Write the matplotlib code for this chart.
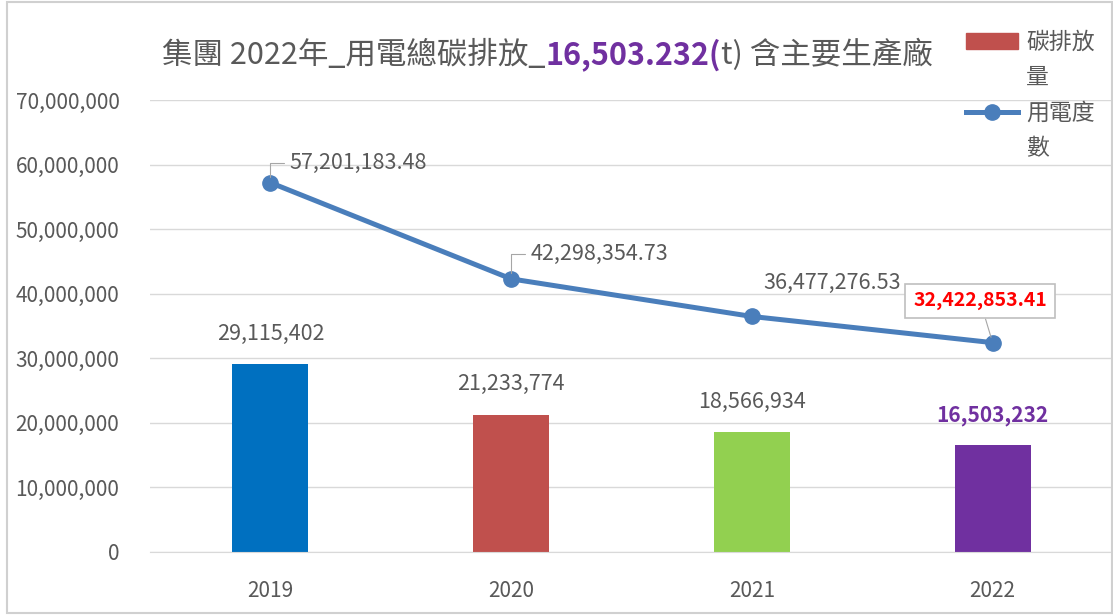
import matplotlib
matplotlib.use('Agg')
import matplotlib.pyplot as plt
from matplotlib.patches import Patch, Rectangle
from matplotlib.lines import Line2D
from matplotlib.ticker import FuncFormatter

plt.rcParams['font.family'] = ['Noto Sans CJK TC', 'DejaVu Sans']

years = ['2019', '2020', '2021', '2022']
carbon = [29115402, 21233774, 18566934, 16503232]
power = [57201183.48, 42298354.73, 36477276.53, 32422853.41]
bar_colors = ['#0070C0', '#C0504D', '#92D050', '#7030A0']
gray = '#595959'

fig = plt.figure(figsize=(11.13, 6.15), dpi=100)
ax = fig.add_axes([150 / 1113, 63 / 615, 963 / 1113, 452 / 615])

x = list(range(len(years)))
ax.bar(x, carbon, width=0.315, color=bar_colors, zorder=2)
ax.plot(x, power, color='#4A7EBB', lw=3.6, marker='o', ms=11, zorder=3)

ax.set_xlim(-0.5, 3.5)
ax.set_ylim(0, 70000000)
ax.set_yticks(range(0, 70000001, 10000000))
ax.yaxis.set_major_formatter(FuncFormatter(lambda v, p: f'{int(v):,}'))
ax.set_xticks(x)
ax.set_xticklabels(years)
ax.tick_params(axis='both', length=0, colors=gray, labelsize=15)
ax.tick_params(axis='y', pad=22)
ax.tick_params(axis='x', pad=20)
ax.grid(axis='y', color='#D9D9D9', lw=1, zorder=0)
for s in ['top', 'right', 'left']:
    ax.spines[s].set_visible(False)
ax.spines['bottom'].set_color('#D9D9D9')

# bar labels
for i, v in enumerate(carbon):
    if i == 3:
        ax.annotate(f'{v:,}', (i, v), xytext=(0, 14), textcoords='offset points',
                    ha='center', va='bottom', fontsize=15, color='#7030A0',
                    fontweight='bold')
    else:
        ax.annotate(f'{v:,}', (i, v), xytext=(0, 14), textcoords='offset points',
                    ha='center', va='bottom', fontsize=15.5, color=gray)

# line labels
offs = [(14, 14), (14, 18), (8, 24)]
for i in range(3):
    arrow = None
    if i < 2:
        arrow = dict(arrowstyle='-', color='#A6A6A6', lw=0.8,
                     connectionstyle='angle,angleA=0,angleB=90,rad=0',
                     shrinkA=2, shrinkB=4)
    ax.annotate(f'{power[i]:,.2f}', (i, power[i]), xytext=offs[i],
                textcoords='offset points', ha='left', va='center',
                fontsize=15.5, color=gray, arrowprops=arrow)
ax.annotate(f'{power[3]:,.2f}', (3, power[3]), xytext=(-9, 30),
            textcoords='offset points', ha='center', va='center',
            fontsize=14, color='#FF0000', fontweight='bold',
            bbox=dict(boxstyle='square,pad=0.4', fc='white', ec='#BFBFBF', lw=1.2),
            arrowprops=dict(arrowstyle='-', color='#A6A6A6', lw=0.8,
                            shrinkA=0, shrinkB=4))

# title in three colored pieces
fig.canvas.draw()
r = fig.canvas.get_renderer()
parts = [('集團 2022年_用電總碳排放_', gray, 'normal'),
         ('16,503.232(', '#7030A0', 'bold'),
         ('t) 含主要生產廠', gray, 'normal')]
tx = 162 / 1113
for txt, c, w in parts:
    t = fig.text(tx, 1 - 55 / 615, txt, color=c, fontweight=w,
                 fontsize=22, ha='left', va='center')
    bb = t.get_window_extent(renderer=r)
    tx = bb.x1 / fig.bbox.width

# legend: first line of each label, second line added below
handles = [Patch(color='#C0504D'),
           Line2D([], [], color='#4A7EBB', lw=3.6, marker='o', ms=11)]
leg = fig.legend(handles, ['碳排放', '用電度'], loc='upper left',
                 bbox_to_anchor=(945 / 1113, 1 - 10 / 615), frameon=False,
                 fontsize=16.5, labelcolor=gray, handlelength=2.3,
                 handleheight=0.7, labelspacing=2.1, handletextpad=0.35)
fig.canvas.draw()
for t, extra in zip(leg.get_texts(), ['量', '數']):
    bb = t.get_window_extent(renderer=r)
    fig.text(bb.x0 / fig.bbox.width, ((bb.y0 + bb.y1) / 2 - 35) / fig.bbox.height,
             extra, fontsize=16.5, color=gray, ha='left', va='center')

fig.patches.append(Rectangle((7 / 1113, 2 / 615), 1 - 8 / 1113, 1 - 4 / 615,
                             transform=fig.transFigure, fill=False,
                             ec='#D0D0D0', lw=1.5))

fig.savefig('out.png', dpi=100)
